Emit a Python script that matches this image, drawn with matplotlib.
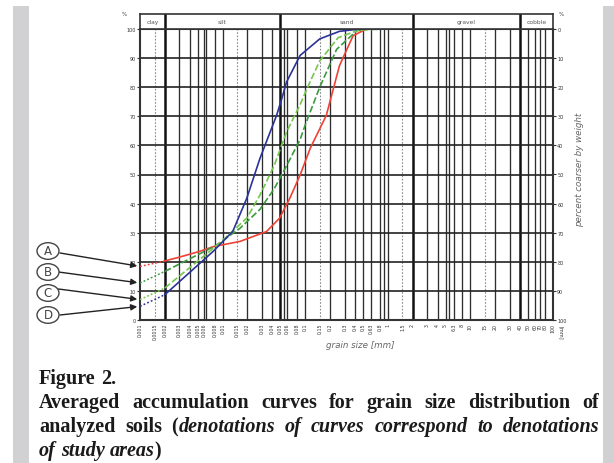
import numpy as np
import matplotlib
matplotlib.use("Agg")
import matplotlib.pyplot as plt
from matplotlib.patches import Rectangle, Circle

# ---------------- data ----------------
fractions = ["clay", "silt", "sand", "gravel", "cobble"]
fraction_bounds = [0.001, 0.002, 0.05, 2.0, 40.0, 100.0]

grid_sizes = [0.003, 0.004, 0.005, 0.006, 0.0063, 0.008, 0.01, 0.02, 0.03, 0.04,
              0.055, 0.06, 0.08, 0.1, 0.2, 0.3, 0.4, 0.5, 0.63, 0.8, 0.9, 1.0,
              3, 4, 5, 5.5, 6.3, 8, 10, 20, 30, 50, 60, 70, 80, 100]
dotted_sizes = [0.0015, 0.015, 0.15, 1.5, 15]
tick_labels_x = ["0,001", "0,0015", "0,002", "0,003", "0,004", "0,005", "0,006", "",
                 "0,008", "0,01", "0,015", "0,02", "0,03", "0,04", "0,05", "", "0,06",
                 "0,08", "0,1", "0,15", "0,2", "0,3", "0,4", "0,5", "0,63", "0,8", "", "1",
                 "1,5", "2", "3", "4", "5", "", "6,3", "8", "10", "15", "20", "30", "40",
                 "50", "60", "70", "80", "100"]
percent_ticks = [0, 10, 20, 30, 40, 50, 60, 70, 80, 90, 100]

curve_names = ["A", "B", "C", "D"]

A_size = [0.001, 0.002, 0.003, 0.0053, 0.0077, 0.0162, 0.034, 0.049, 0.065, 0.0867,
          0.115, 0.18, 0.26, 0.38, 0.55, 1.0]
A_pct = [18.4, 20.3, 21.6, 23.6, 25.2, 27.0, 30.4, 35.0, 41.8, 49.8,
         59.0, 70.3, 87.4, 97.7, 100, 100]

B_size = [0.001, 0.002, 0.0082, 0.0162, 0.0283, 0.042, 0.0595, 0.0867, 0.1, 0.15,
          0.24, 0.42, 0.6, 1.0]
B_pct = [12.7, 16.7, 25.5, 31.5, 38.0, 45.0, 53.0, 62.0, 67.0, 80.0,
         93.0, 99.4, 100, 100]

C_size = [0.001, 0.002, 0.008, 0.0106, 0.0196, 0.0283, 0.042, 0.0595, 0.0867, 0.115,
          0.15, 0.25, 0.45, 1.0]
C_pct = [7.0, 11.0, 25.0, 28.0, 35.0, 42.9, 53.0, 64.6, 74.0, 82.0,
         89.0, 97.0, 99.7, 100]

D_size = [0.001, 0.002, 0.0077, 0.0133, 0.0196, 0.0283, 0.045, 0.052, 0.0595, 0.0867,
          0.15, 0.26, 0.46, 1.0]
D_pct = [4.7, 8.7, 23.6, 30.5, 41.8, 55.5, 70.3, 76.0, 81.8, 90.9,
         96.6, 99.2, 100, 100]

# ---------------- figure ----------------
W, H = 614, 464
fig = plt.figure(figsize=(W / 100, H / 100), dpi=100)
fig.patch.set_facecolor("white")

def fx(px):
    return px / W

def fy(py):
    return 1 - py / H

# gray side strips
fig.patches.append(Rectangle((fx(13), 0), fx(29) - fx(13), fy(7), transform=fig.transFigure,
                             facecolor="#d1d1d3", edgecolor="none", zorder=0))
fig.patches.append(Rectangle((fx(603), 0), 1 - fx(603), fy(7), transform=fig.transFigure,
                             facecolor="#d1d1d3", edgecolor="none", zorder=0))

L, R, T, B = 140, 553, 30, 321
ax = fig.add_axes([fx(L), fy(B), fx(R) - fx(L), fy(T) - fy(B)])
ax.set_xscale("log")
ax.set_xlim(fraction_bounds[0], fraction_bounds[-1])
ax.set_ylim(0, 100)
ax.minorticks_off()

for g in grid_sizes:
    ax.axvline(g, color="#2e2e2e", lw=0.95, zorder=1)
for g in fraction_bounds[1:-1]:
    ax.axvline(g, color="#111111", lw=1.8, zorder=1)
for g in dotted_sizes:
    ax.axvline(g, color="#8a8a8a", lw=0.8, ls=(0, (1.5, 1.5)), zorder=1)
for p in percent_ticks[1:-1]:
    ax.axhline(p, color="#222222", lw=1.2, zorder=1)

for s in ax.spines.values():
    s.set_color("#333333")
    s.set_linewidth(1.5)

xt = sorted(fraction_bounds[:-1] + grid_sizes + dotted_sizes)
ax.set_xticks(xt)
ax.set_xticklabels(tick_labels_x, rotation=90, fontsize=3.4, color="#333333")
ax.tick_params(axis="x", length=0, pad=2)
ax.set_yticks(percent_ticks)
ax.set_yticklabels([str(p) for p in percent_ticks], fontsize=3.5, color="#333333")
ax.tick_params(axis="y", length=2, width=0.8, pad=1, colors="#333333")

ax2 = ax.twinx()
ax2.set_ylim(100, 0)
ax2.set_yticks(percent_ticks)
ax2.set_yticklabels([str(p) for p in percent_ticks], fontsize=3.5, color="#333333")
ax2.tick_params(axis="y", length=2, width=0.8, pad=1, colors="#333333")
for s in ax2.spines.values():
    s.set_visible(False)

# curves
styles = [
    (A_size, A_pct, "#ef4236", "-"),
    (B_size, B_pct, "#3c9a3e", (0, (4, 1.6))),
    (C_size, C_pct, "#74c64c", (0, (4, 1.6))),
    (D_size, D_pct, "#2b3398", "-"),
]
for i, (xs, ys, col, ls) in enumerate(styles):
    ax.plot(xs[:2], ys[:2], color=col, lw=1.1, ls=(0, (1.2, 1.4)), zorder=3 + i)
    ax.plot(xs[1:], ys[1:], color=col, lw=1.2, ls=ls, zorder=3 + i)

# header box with fraction names
axh = fig.add_axes([fx(L), fy(T), fx(R) - fx(L), fy(15) - fy(T)])
axh.set_xscale("log")
axh.set_xlim(fraction_bounds[0], fraction_bounds[-1])
axh.set_ylim(0, 1)
axh.set_xticks([])
axh.set_yticks([])
axh.minorticks_off()
for s in axh.spines.values():
    s.set_color("#333333")
    s.set_linewidth(1.2)
for g in fraction_bounds[1:-1]:
    axh.axvline(g, color="#111111", lw=1.8)
for name, lo, hi in zip(fractions, fraction_bounds[:-1], fraction_bounds[1:]):
    axh.text(np.sqrt(lo * hi), 0.5, name, ha="center", va="center", fontsize=4.3,
             color="#555555")

# corner marks
fig.text(fx(124), fy(14), "%", fontsize=4, color="#444444", ha="center", va="center")
fig.text(fx(561), fy(14), "%", fontsize=4, color="#444444", ha="center", va="center")
fig.text(fx(561), fy(333), "[mm]", fontsize=3.6, color="#333333", rotation=270,
         ha="center", va="center")

# axis titles
fig.text(fx(360), fy(346), "grain size [mm]", fontsize=6.3, style="italic", color="#666666",
         ha="center", va="center")
fig.text(fx(580), fy(170), "percent coarser by weight", fontsize=6.3, style="italic",
         color="#666666", rotation=90, ha="center", va="center")

# labels A-D with arrows
circ_y = [252, 273, 294, 316]
start_y = [254, 273, 290, 316]
start_x = [60, 58.5, 58.5, 60]
starts = [A_pct[0], B_pct[0], C_pct[0], D_pct[0]]
for name, cy, sy, sx, sp in zip(curve_names, circ_y, start_y, start_x, starts):
    fig.patches.append(Circle((fx(48), fy(cy)), radius=11 / W, transform=fig.transFigure,
                              facecolor="white", edgecolor="#444444", lw=1.0, zorder=5))
    fig.text(fx(48), fy(cy), name, fontsize=8.5, color="#444444", ha="center", va="center",
             zorder=6)
    ax.annotate("", xy=(fraction_bounds[0], sp), xycoords="data",
                xytext=(sx, H - sy), textcoords="figure pixels",
                arrowprops=dict(arrowstyle="-|>", color="#222222", lw=1.0,
                                mutation_scale=9, shrinkA=0, shrinkB=2),
                annotation_clip=False)

# ---------------- caption (justified) ----------------
serif = "Liberation Serif"
fs = 14.5
fig.canvas.draw()
renderer = fig.canvas.get_renderer()

def place_line(tokens, x0, x1, ybase, justify=True):
    objs = []
    widths = []
    for tok in tokens:
        pieces = []
        w = 0
        for txt, st in tok:
            t = fig.text(0, 0, txt, fontsize=fs, family=serif, weight="bold", style=st,
                         color="#1a1a1a", va="baseline", ha="left")
            bb = t.get_window_extent(renderer)
            pieces.append((t, bb.width))
            w += bb.width
        objs.append(pieces)
        widths.append(w)
    if justify and len(tokens) > 1:
        gap = (x1 - x0 - sum(widths)) / (len(tokens) - 1)
    else:
        sp = fig.text(0, 0, "a a", fontsize=fs, family=serif, weight="bold")
        sp2 = fig.text(0, 0, "aa", fontsize=fs, family=serif, weight="bold")
        gap = sp.get_window_extent(renderer).width - sp2.get_window_extent(renderer).width
        sp.remove(); sp2.remove()
    x = x0
    for pieces in objs:
        for t, w in pieces:
            t.set_position((fx(x), fy(ybase)))
            x += w
        x += gap

place_line([[("Figure", "normal")], [("2.", "normal")]], 39, 599, 384, justify=False)
place_line([[(w, "normal")] for w in
            "Averaged accumulation curves for grain size distribution of".split()],
           39, 599, 408)
place_line([[("analyzed", "normal")], [("soils", "normal")],
            [("(", "normal"), ("denotations", "italic")]] +
           [[(w, "italic")] for w in "of curves correspond to denotations".split()],
           39, 599, 432)
place_line([[("of", "italic")], [("study", "italic")], [("areas", "italic"), (")", "normal")]],
           39, 599, 456, justify=False)

fig.savefig("out.png", dpi=100, facecolor="white")
